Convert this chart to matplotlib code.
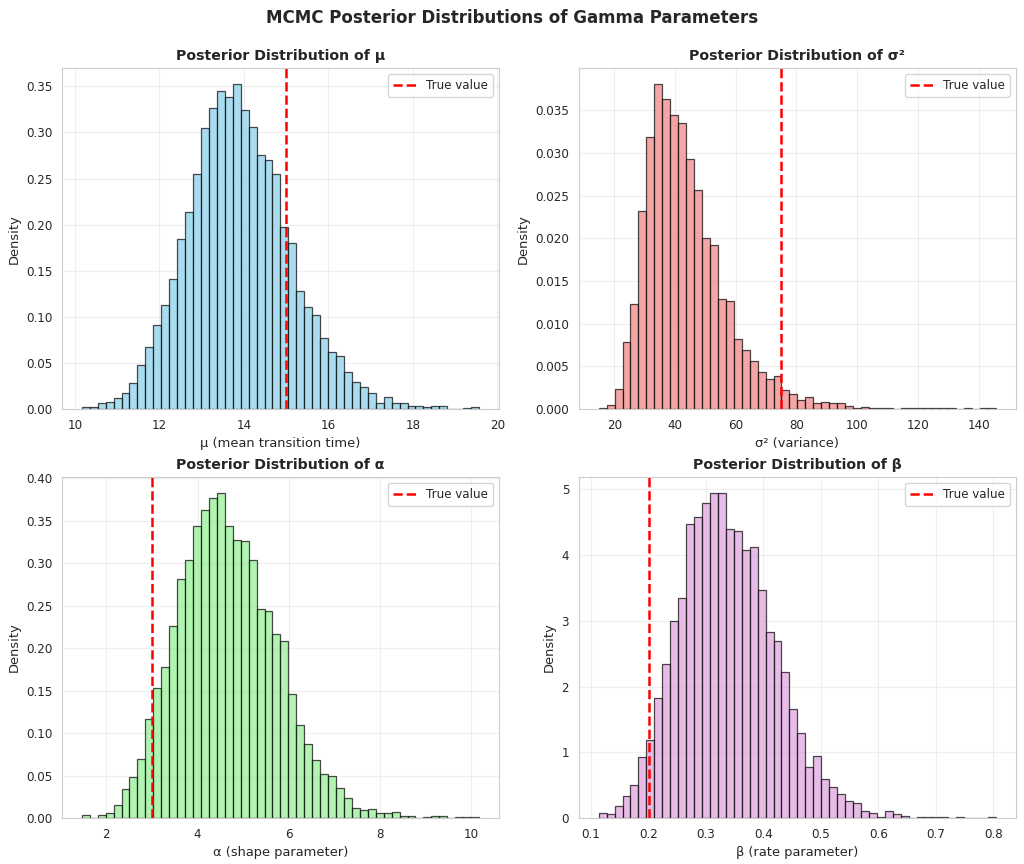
import numpy as np
import matplotlib
matplotlib.use("Agg")
import matplotlib.pyplot as plt
import seaborn as sns

# ----------------------------------------------------------------
# datos (densidad por bin, 50 bins cada uno)
# ----------------------------------------------------------------
mu_range = (10.16, 19.57)
mu_dens = [0.0025, 0.0025, 0.007, 0.0075, 0.0126, 0.0177, 0.0285, 0.048, 0.0675, 0.091,
           0.113, 0.141, 0.184, 0.2135, 0.255, 0.3045, 0.3266, 0.345, 0.338, 0.352,
           0.3245, 0.306, 0.276, 0.270, 0.255, 0.197, 0.180, 0.128, 0.111, 0.102,
           0.077, 0.062, 0.058, 0.0405, 0.0296, 0.024, 0.018, 0.007, 0.013, 0.007,
           0.007, 0.0036, 0.0036, 0.002, 0.0036, 0.0036, 0.0, 0.0, 0.001, 0.0025]

sig_range = (14.85, 145.7)
sig_dens = [0.0002, 0.0005, 0.0024, 0.0079, 0.0123, 0.0232, 0.0318, 0.038, 0.0363, 0.0344,
            0.0335, 0.0293, 0.0256, 0.0200, 0.0192, 0.0129, 0.0127, 0.0082, 0.0069, 0.0057,
            0.0044, 0.0035, 0.0039, 0.0022, 0.0018, 0.0011, 0.0014, 0.0007, 0.0008, 0.0007,
            0.0007, 0.0004, 0.0002, 0.0003, 0.0002, 0.0002, 0.0002, 0.0, 0.0001, 0.0001,
            0.0001, 0.0002, 0.0001, 0.0001, 0.0001, 0.0, 0.0001, 0.0, 0.0001, 0.0001]

alpha_range = (1.46, 10.18)
alpha_dens = [0.003, 0.0, 0.003, 0.006, 0.015, 0.034, 0.048, 0.069, 0.116, 0.1525,
              0.1776, 0.226, 0.281, 0.3035, 0.343, 0.362, 0.3765, 0.382, 0.344, 0.327,
              0.3255, 0.3035, 0.246, 0.2435, 0.2165, 0.208, 0.146, 0.110, 0.087, 0.068,
              0.052, 0.050, 0.035, 0.023, 0.012, 0.0094, 0.0106, 0.006, 0.006, 0.0075,
              0.002, 0.0024, 0.0, 0.001, 0.0027, 0.002, 0.0, 0.001, 0.001, 0.001]

beta_range = (0.1133, 0.8046)
beta_dens = [0.07, 0.056, 0.18, 0.34, 0.50, 0.93, 1.18, 1.83, 2.34, 3.00,
             3.34, 4.48, 4.58, 4.79, 4.94, 4.94, 4.40, 4.37, 4.08, 4.13,
             3.47, 2.83, 2.70, 2.22, 1.66, 1.29, 0.78, 0.95, 0.59, 0.47,
             0.37, 0.26, 0.23, 0.11, 0.07, 0.02, 0.10, 0.06, 0.03, 0.0,
             0.01, 0.01, 0.01, 0.01, 0.0, 0.02, 0.0, 0.0, 0.0, 0.02]

# valores verdaderos
true_vals = [15.0, 75.0, 3.0, 0.2]

titulos = ["Posterior Distribution of μ", "Posterior Distribution of σ²",
           "Posterior Distribution of α", "Posterior Distribution of β"]
etiquetas = ["μ (mean transition time)", "σ² (variance)",
             "α (shape parameter)", "β (rate parameter)"]
colores = ["skyblue", "lightcoral", "lightgreen", "plum"]

rangos = [mu_range, sig_range, alpha_range, beta_range]
densidades = [mu_dens, sig_dens, alpha_dens, beta_dens]

# ----------------------------------------------------------------
sns.set_style("whitegrid")
plt.rcParams['font.family'] = ['DejaVu Sans']

fig, axes = plt.subplots(2, 2, figsize=(10.24, 8.64), dpi=100)
fig.subplots_adjust(left=0.0605, right=0.992, top=0.921, bottom=0.0532,
                    wspace=0.183, hspace=0.199)

for ax, rng, dens, tv, tit, lab, col in zip(axes.flat, rangos, densidades, true_vals,
                                           titulos, etiquetas, colores):
    bordes = np.linspace(rng[0], rng[1], len(dens) + 1)
    ancho = bordes[1] - bordes[0]
    ax.bar(bordes[:-1], dens, width=ancho, align="edge", color=col,
           edgecolor="black", linewidth=0.9, alpha=0.7)
    ax.axvline(tv, color="red", linestyle="--", linewidth=1.8, label="True value")
    ax.set_title(tit, fontsize=10.2, fontweight="bold")
    ax.set_xlabel(lab, fontsize=9.4)
    ax.set_ylabel("Density", fontsize=9.4)
    ax.tick_params(labelsize=8.6)
    ax.grid(True, alpha=0.3)
    ax.legend(loc="upper right", fontsize=8.6)

fig.suptitle("MCMC Posterior Distributions of Gamma Parameters",
             fontsize=12, fontweight="bold", y=0.99)

plt.savefig("out.png", dpi=100)
